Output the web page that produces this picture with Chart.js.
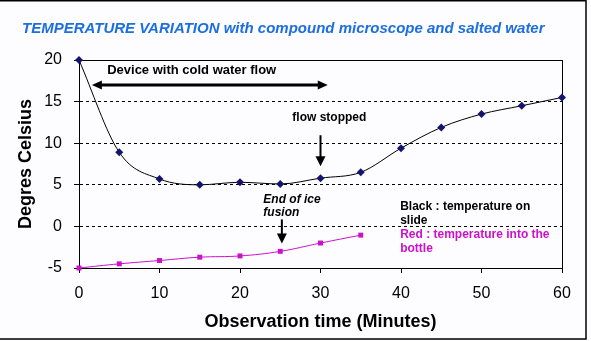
<!DOCTYPE html>
<html>
<head>
<meta charset="utf-8">
<script src="https://cdn.jsdelivr.net/npm/chart.js@4.4.0/dist/chart.umd.min.js"></script>
<style>
  html, body { margin: 0; padding: 0; background: #fdfcff; }
  #wrap { width: 591px; height: 341px; }
</style>
</head>
<body>
<div id="wrap"><canvas id="chart" width="591" height="341"></canvas></div>
<script>
// observation times (minutes) and temperatures (degrees C)
const slideMinutes = [0, 5, 10, 15, 20, 25, 30, 35, 40, 45, 50, 55, 60];
const slideTemp = [20, 8.9, 5.7, 5.0, 5.3, 5.1, 5.8, 6.5, 9.4, 11.9, 13.5, 14.5, 15.5];
const bottleMinutes = [0, 5, 10, 15, 20, 25, 30, 35];
const bottleTemp = [-5, -4.5, -4.1, -3.7, -3.55, -3.0, -2.0, -1.05];

const FONT = "Arial, 'Liberation Sans', sans-serif";
const MAGENTA = "#cc11cc";

// text + arrows drawn on top of the chart (positions in data units)
const notes = [
  { text: "Device with cold water flow", x: 3.5, y: 18.8, font: "bold 13px", color: "#000", align: "left" },
  { text: "flow stopped", x: 31.1, y: 13.1, font: "bold 12px", color: "#000", align: "center" },
  { text: "End of ice", x: 22.9, y: 3.25, font: "italic bold 12px", color: "#000", align: "left" },
  { text: "fusion", x: 22.9, y: 1.7, font: "italic bold 12px", color: "#000", align: "left" },
  { text: "Black : temperature on", x: 39.9, y: 2.4, font: "bold 12px", color: "#000", align: "left" },
  { text: "slide", x: 39.9, y: 0.72, font: "bold 12px", color: "#000", align: "left" },
  { text: "Red : temperature into the", x: 39.9, y: -0.96, font: "bold 12px", color: MAGENTA, align: "left" },
  { text: "bottle", x: 39.9, y: -2.65, font: "bold 12px", color: MAGENTA, align: "left" }
];

function arrowHead(ctx, tipX, tipY, dx, dy, len, half) {
  // dx,dy = unit direction of the arrow
  ctx.beginPath();
  ctx.moveTo(tipX, tipY);
  ctx.lineTo(tipX - dx * len - dy * half, tipY - dy * len + dx * half);
  ctx.lineTo(tipX - dx * len + dy * half, tipY - dy * len - dx * half);
  ctx.closePath();
  ctx.fill();
}

const extras = {
  id: "extras",
  beforeDraw(chart) {
    const ctx = chart.ctx;
    ctx.save();
    ctx.fillStyle = "#fdfcff";
    ctx.fillRect(0, 0, chart.width, chart.height);
    ctx.restore();
  },
  beforeDatasetsDraw(chart) {
    const { ctx, chartArea: a } = chart;
    ctx.save();
    ctx.strokeStyle = "#000";
    ctx.lineWidth = 1;
    ctx.strokeRect(Math.round(a.left) + 0.5, Math.round(a.top) + 0.5,
      Math.round(a.right - a.left), Math.round(a.bottom - a.top));
    ctx.restore();
  },
  afterDraw(chart) {
    const { ctx, scales: { x, y } } = chart;
    ctx.save();
    // outer frame
    ctx.strokeStyle = "#000";
    ctx.lineWidth = 1.5;
    ctx.beginPath();
    ctx.moveTo(0, 0.75);
    ctx.lineTo(586, 0.75);
    ctx.lineTo(586, 339);
    ctx.lineTo(0, 339);
    ctx.stroke();

    // title
    ctx.fillStyle = "#1c6fe0";
    ctx.font = "italic bold 15px " + FONT;
    ctx.textBaseline = "middle";
    ctx.textAlign = "left";
    ctx.fillText("TEMPERATURE VARIATION with compound microscope and salted water", 22, 29);

    notes.forEach(n => {
      ctx.fillStyle = n.color;
      ctx.font = n.font + " " + FONT;
      ctx.textAlign = n.align;
      ctx.fillText(n.text, x.getPixelForValue(n.x), y.getPixelForValue(n.y));
    });

    ctx.fillStyle = "#000";
    ctx.strokeStyle = "#000";
    // double arrow: cold water flow period
    const ax1 = x.getPixelForValue(1.6), ax2 = x.getPixelForValue(30.9), ay = y.getPixelForValue(17.0);
    ctx.lineWidth = 3;
    ctx.beginPath();
    ctx.moveTo(ax1 + 8, ay);
    ctx.lineTo(ax2 - 8, ay);
    ctx.stroke();
    arrowHead(ctx, ax1, ay, -1, 0, 10, 4.5);
    arrowHead(ctx, ax2, ay, 1, 0, 10, 4.5);

    // down arrows
    [[30.0, 10.96, 7.23], [25.2, 0.84, -2.05]].forEach(([vx, v1, v2]) => {
      const px = x.getPixelForValue(vx), p1 = y.getPixelForValue(v1), p2 = y.getPixelForValue(v2);
      ctx.lineWidth = 2;
      ctx.beginPath();
      ctx.moveTo(px, p1);
      ctx.lineTo(px, p2 - 8);
      ctx.stroke();
      arrowHead(ctx, px, p2, 0, 1, 10, 5);
    });
    ctx.restore();
  }
};

new Chart(document.getElementById("chart"), {
  type: "line",
  data: {
    datasets: [
      {
        label: "Black : temperature on slide",
        data: slideMinutes.map((m, i) => ({ x: m, y: slideTemp[i] })),
        borderColor: "#000",
        borderWidth: 1,
        backgroundColor: "#14146e",
        pointStyle: "rectRot",
        pointRadius: 4,
        pointBorderWidth: 0,
        tension: 0.4,
        cubicInterpolationMode: "monotone",
        clip: false
      },
      {
        label: "Red : temperature into the bottle",
        data: bottleMinutes.map((m, i) => ({ x: m, y: bottleTemp[i] })),
        borderColor: MAGENTA,
        borderWidth: 1,
        backgroundColor: MAGENTA,
        pointStyle: "rect",
        pointRadius: 3.5,
        pointBorderWidth: 0,
        tension: 0.4,
        clip: false
      }
    ]
  },
  options: {
    responsive: false,
    animation: false,
    events: [],
    layout: { padding: { top: 60, right: 29, bottom: 0, left: 0 } },
    plugins: {
      legend: { display: false },
      title: { display: false },
      tooltip: { enabled: false }
    },
    scales: {
      x: {
        type: "linear",
        min: 0,
        max: 60,
        afterFit: s => { s.height = 73; },
        ticks: { stepSize: 10, color: "#000", padding: 11, maxRotation: 0, font: { family: FONT, size: 16 } },
        grid: { drawOnChartArea: false, drawTicks: true, tickLength: 5, color: "#000" },
        border: { display: true, color: "#000", width: 1 },
        title: {
          display: true,
          text: "Observation time (Minutes)",
          color: "#000",
          font: { family: FONT, size: 18, weight: "bold" },
          padding: { top: 0, bottom: 8 }
        }
      },
      y: {
        min: -5,
        max: 20,
        afterFit: s => { s.width = 79; },
        ticks: { stepSize: 5, color: "#000", padding: 12, font: { family: FONT, size: 16 } },
        grid: { color: "#000", lineWidth: 1, tickLength: 5, tickColor: "#000" },
        border: { display: true, color: "#000", width: 1, dash: [3, 3] },
        title: {
          display: true,
          text: "Degres Celsius",
          color: "#000",
          font: { family: FONT, size: 18, weight: "bold" },
          padding: { top: 15, bottom: 0 }
        }
      }
    }
  },
  plugins: [extras]
});
</script>
</body>
</html>
